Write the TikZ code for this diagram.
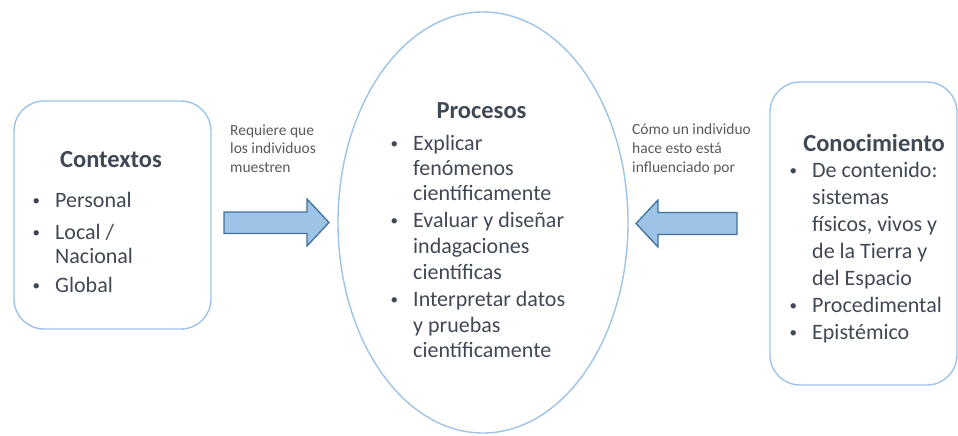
\documentclass[tikz,border=0pt]{standalone}
\usepackage{fontspec}
\setmainfont{Carlito}
\definecolor{boxline}{HTML}{9DC3E6}
\definecolor{txt}{HTML}{404855}
\definecolor{lbl}{HTML}{595959}
\definecolor{arrfill}{HTML}{9DC3E6}
\definecolor{arrline}{HTML}{41719C}
\begin{document}
\begin{tikzpicture}[x=1pt,y=-1pt,
  frame/.style={draw=boxline, line width=1.4pt},
  ttl/.style={anchor=base, inner sep=0pt, text=txt, font=\fontsize{24.5}{29}\selectfont\bfseries},
  itm/.style={anchor=base west, inner sep=0pt, text=txt, font=\fontsize{22}{26}\selectfont},
  lab/.style={anchor=base west, inner sep=0pt, text=lbl, font=\fontsize{15.5}{18.5}\selectfont},
  blockarrow/.style={fill=arrfill, draw=arrline, line width=1.3pt, line join=miter}]
\useasboundingbox (0,0) rectangle (958,436);
\newcommand\bul{\llap{\raisebox{1.5pt}{\fontsize{15}{15}\selectfont\textbullet}\hspace{15pt}}}
% shapes
\node[frame, rounded corners=30pt, minimum width=197pt, minimum height=228pt, inner sep=0pt] (ctx) at (112.5,215) {};
\node[frame, rounded corners=30pt, minimum width=187pt, minimum height=303pt, inner sep=0pt] (con) at (863.5,233.5) {};
\draw[frame] (483,222.5) ellipse [x radius=145, y radius=210.5];
\coordinate (proc) at (483,222.5);
% block arrows
\draw[blockarrow] (224,212) -- (307,212) -- (307,199) -- (329,222.5) -- (307,246) -- (307,233.5) -- (224,233.5) -- cycle;
\draw[blockarrow] (737,212.5) -- (658,212.5) -- (658,200) -- (636,223.5) -- (658,247) -- (658,234.5) -- (737,234.5) -- cycle;
% Contextos
\node[ttl] (ctxT) at (111,167) {Contextos};
\node[itm] (c1) at (55,207) {\bul Personal};
\node[itm] (c2) at (55,239) {\bul Local /};
\node[itm] (c3) at (55,263) {Nacional};
\node[itm] (c4) at (55,292) {\bul Global};
% Procesos
\node[ttl] (procT) at (481.5,118) {Procesos};
\node[itm] (p1) at (413,150) {\bul Explicar};
\node[itm] (p2) at (413,175) {fenómenos};
\node[itm] (p3) at (413,200) {científicamente};
\node[itm] (p4) at (413,227) {\bul Evaluar y diseñar};
\node[itm] (p5) at (413,253) {indagaciones};
\node[itm] (p6) at (413,279) {científicas};
\node[itm] (p7) at (413,306) {\bul Interpretar datos};
\node[itm] (p8) at (413,332) {y pruebas};
\node[itm] (p9) at (413,357) {científicamente};
% Conocimiento
\node[ttl] (conT) at (874,151) {Conocimiento};
\node[itm] (k1) at (812,177) {\bul De contenido:};
\node[itm] (k2) at (812,204) {sistemas};
\node[itm] (k3) at (812,231) {físicos, vivos y};
\node[itm] (k4) at (812,258) {de la Tierra y};
\node[itm] (k5) at (812,285) {del Espacio};
\node[itm] (k6) at (812,312) {\bul Procedimental};
\node[itm] (k7) at (812,339) {\bul Epistémico};
% labels
\node[lab] (l1) at (230,135) {Requiere que};
\node[lab] (l2) at (230,153.5) {los individuos};
\node[lab] (l3) at (230,172) {muestren};
\node[lab] (r1) at (632,134) {Cómo un individuo};
\node[lab] (r2) at (632,153) {hace esto está};
\node[lab] (r3) at (632,172) {influenciado por};
\end{tikzpicture}
\end{document}
